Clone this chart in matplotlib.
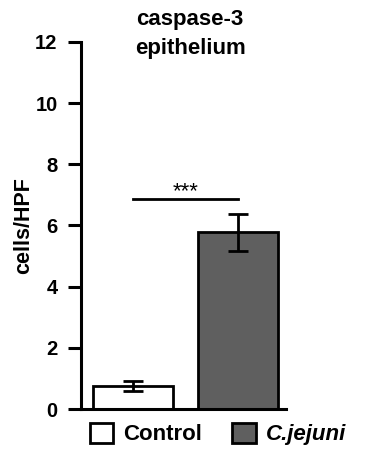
import matplotlib
matplotlib.use("Agg")
from matplotlib import pyplot as plt

plt.rcParams['font.family'] = ['Liberation Sans', 'DejaVu Sans']
plt.rcParams['font.weight'] = 'bold'

groups = ["Control", "C.jejuni"]
means = [0.75, 5.77]
errors = [0.17, 0.6]
colors = ["white", "#5f5f5f"]
sig_label = "***"
sig_height = 6.86

fig = plt.figure(figsize=(3.65, 4.55), dpi=100)
ax = fig.add_axes([0.222, 0.101, 0.562, 0.807])

x = list(range(len(groups)))
bars = ax.bar(x, means, width=0.766, color=colors, edgecolor="black", linewidth=2,
              yerr=errors, capsize=7,
              error_kw=dict(elinewidth=2, capthick=2, ecolor="black"))

# significance bracket
ax.plot([x[0], x[1]], [sig_height, sig_height], color="black", linewidth=2)
ax.text((x[0] + x[1]) / 2, sig_height - 0.1, sig_label, ha="center", va="bottom",
        fontsize=16, fontweight="normal")

ax.set_xlim(-0.498, 1.464)
ax.set_ylim(0, 12)
ax.set_yticks(range(0, 13, 2))
ax.set_xticks([])
ax.spines['top'].set_visible(False)
ax.spines['right'].set_visible(False)
ax.spines['left'].set_linewidth(2.2)
ax.spines['bottom'].set_linewidth(2.2)
ax.tick_params(axis='y', length=9.4, width=2.2, labelsize=14.5, pad=7.5)
for lab in ax.get_yticklabels():
    lab.set_fontweight('bold')
ax.set_ylabel("cells/HPF", fontsize=15.5, fontweight="bold", labelpad=1)

fig.text(190 / 365, 1 - 34 / 455, "caspase-3\nepithelium", fontsize=16, fontweight="bold",
         ha="center", va="center", linespacing=1.5)

leg = fig.legend(bars, groups, loc="center", bbox_to_anchor=(218 / 365, 1 - 434 / 455), ncol=2,
                 frameon=False, fontsize=16, handlelength=1.05, handleheight=1.05,
                 columnspacing=1.36, handletextpad=0.45, borderpad=0, borderaxespad=0)
for t in leg.get_texts():
    t.set_fontweight("bold")
leg.get_texts()[1].set_style("italic")

fig.savefig("out.png", dpi=100)
